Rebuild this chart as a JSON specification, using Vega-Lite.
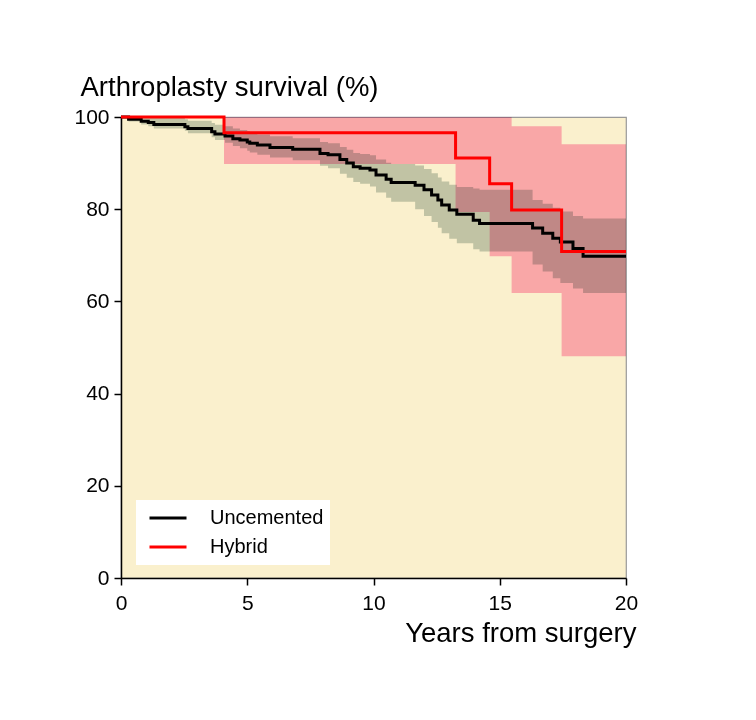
{
  "$schema": "https://vega.github.io/schema/vega-lite/v6.json",
  "width": 505,
  "height": 461,
  "autosize": "none",
  "padding": {"left": 121, "top": 117, "right": 130, "bottom": 142},
  "background": "white",
  "config": {
    "font": "Liberation Sans",
    "view": {"fill": "#FAF0CD", "stroke": "#999999", "strokeWidth": 1.2},
    "axis": {
      "domainColor": "#000000",
      "domainWidth": 1.5,
      "tickColor": "#000000",
      "tickWidth": 1.5,
      "tickSize": 7,
      "labelFont": "Liberation Sans",
      "labelFontSize": 21,
      "labelColor": "#000000",
      "labelFlush": false,
      "titleFont": "Liberation Sans",
      "titleFontSize": 27.5,
      "titleFontWeight": "normal",
      "titleColor": "#000000",
      "grid": false
    }
  },
  "data": {
    "values": [
      {"group": "Uncemented", "t": 0, "s": 100, "lo": 100, "hi": 100},
      {"group": "Uncemented", "t": 0.3, "s": 99.5, "lo": 99.0, "hi": 100},
      {"group": "Uncemented", "t": 0.8, "s": 99.1, "lo": 98.4, "hi": 100},
      {"group": "Uncemented", "t": 1.08, "s": 98.8, "lo": 98.0, "hi": 100},
      {"group": "Uncemented", "t": 1.3, "s": 98.4, "lo": 97.5, "hi": 99.8},
      {"group": "Uncemented", "t": 2.53, "s": 97.9, "lo": 97.0, "hi": 99.5},
      {"group": "Uncemented", "t": 2.65, "s": 97.5, "lo": 96.5, "hi": 99.2},
      {"group": "Uncemented", "t": 3.59, "s": 96.8, "lo": 95.6, "hi": 98.7},
      {"group": "Uncemented", "t": 3.72, "s": 96.3, "lo": 95.0, "hi": 98.3},
      {"group": "Uncemented", "t": 4.12, "s": 95.9, "lo": 94.4, "hi": 98.0},
      {"group": "Uncemented", "t": 4.43, "s": 95.3, "lo": 93.7, "hi": 97.5},
      {"group": "Uncemented", "t": 4.71, "s": 95.0, "lo": 93.2, "hi": 97.2},
      {"group": "Uncemented", "t": 5.0, "s": 94.6, "lo": 92.7, "hi": 96.9},
      {"group": "Uncemented", "t": 5.1, "s": 94.3, "lo": 92.3, "hi": 96.6},
      {"group": "Uncemented", "t": 5.4, "s": 93.9, "lo": 91.8, "hi": 96.2},
      {"group": "Uncemented", "t": 5.9, "s": 93.4, "lo": 91.2, "hi": 95.8},
      {"group": "Uncemented", "t": 6.8, "s": 93.0, "lo": 90.6, "hi": 95.4},
      {"group": "Uncemented", "t": 7.88, "s": 92.1, "lo": 89.4, "hi": 94.6},
      {"group": "Uncemented", "t": 8.2, "s": 91.8, "lo": 88.9, "hi": 94.3},
      {"group": "Uncemented", "t": 8.67, "s": 90.8, "lo": 87.7, "hi": 93.5},
      {"group": "Uncemented", "t": 8.94, "s": 90.0, "lo": 86.8, "hi": 92.9},
      {"group": "Uncemented", "t": 9.2, "s": 89.2, "lo": 85.9, "hi": 92.2},
      {"group": "Uncemented", "t": 9.47, "s": 88.9, "lo": 85.5, "hi": 92.0},
      {"group": "Uncemented", "t": 9.86, "s": 88.5, "lo": 84.9, "hi": 91.7},
      {"group": "Uncemented", "t": 10.1, "s": 87.4, "lo": 83.6, "hi": 90.8},
      {"group": "Uncemented", "t": 10.5, "s": 86.5, "lo": 82.5, "hi": 90.1},
      {"group": "Uncemented", "t": 10.7, "s": 85.8, "lo": 81.6, "hi": 89.8},
      {"group": "Uncemented", "t": 11.65, "s": 85.2, "lo": 80.0, "hi": 89.5},
      {"group": "Uncemented", "t": 12.0, "s": 84.2, "lo": 78.5, "hi": 88.7},
      {"group": "Uncemented", "t": 12.3, "s": 83.1, "lo": 77.2, "hi": 87.8},
      {"group": "Uncemented", "t": 12.55, "s": 82.0, "lo": 76.0, "hi": 86.9},
      {"group": "Uncemented", "t": 12.7, "s": 80.9, "lo": 74.8, "hi": 86.0},
      {"group": "Uncemented", "t": 13.0, "s": 79.8, "lo": 73.6, "hi": 85.3},
      {"group": "Uncemented", "t": 13.3, "s": 78.9, "lo": 72.6, "hi": 84.8},
      {"group": "Uncemented", "t": 13.95, "s": 77.6, "lo": 71.3, "hi": 84.5},
      {"group": "Uncemented", "t": 14.2, "s": 76.9, "lo": 70.8, "hi": 84.2},
      {"group": "Uncemented", "t": 16.3, "s": 75.9, "lo": 68.0, "hi": 82.0},
      {"group": "Uncemented", "t": 16.7, "s": 74.8, "lo": 66.5, "hi": 81.2},
      {"group": "Uncemented", "t": 17.1, "s": 73.7, "lo": 65.0, "hi": 80.3},
      {"group": "Uncemented", "t": 17.4, "s": 72.9, "lo": 64.0, "hi": 79.5},
      {"group": "Uncemented", "t": 17.9, "s": 71.5, "lo": 62.8, "hi": 78.5},
      {"group": "Uncemented", "t": 18.3, "s": 69.8, "lo": 61.8, "hi": 78.0},
      {"group": "Uncemented", "t": 20, "s": 69.8, "lo": 61.8, "hi": 78.0},
      {"group": "Hybrid", "t": 0, "s": 100, "lo": 100, "hi": 100},
      {"group": "Hybrid", "t": 4.08, "s": 96.6, "lo": 89.8, "hi": 100},
      {"group": "Hybrid", "t": 13.25, "s": 91.1, "lo": 79.4, "hi": 100},
      {"group": "Hybrid", "t": 14.6, "s": 85.5, "lo": 69.8, "hi": 100},
      {"group": "Hybrid", "t": 15.47, "s": 79.8, "lo": 61.8, "hi": 98.0},
      {"group": "Hybrid", "t": 17.45, "s": 70.8, "lo": 48.1, "hi": 94.1},
      {"group": "Hybrid", "t": 20, "s": 70.8, "lo": 48.1, "hi": 94.1}
    ]
  },
  "encoding": {
    "x": {
      "field": "t",
      "type": "quantitative",
      "scale": {"domain": [0, 20], "nice": false, "zero": false},
      "axis": {
        "values": [0, 5, 10, 15, 20],
        "labelPadding": 7,
        "title": "Years from surgery",
        "titleX": 515,
        "titleY": 63,
        "titleAlign": "right",
        "titleBaseline": "alphabetic",
        "titleAnchor": "end"
      }
    }
  },
  "layer": [
    {
      "transform": [{"filter": "datum.group === 'Uncemented'"}],
      "mark": {"type": "area", "interpolate": "step-after", "blend": "multiply", "color": "#C5D0CC"},
      "encoding": {
        "y": {
          "field": "lo",
          "type": "quantitative",
          "scale": {"domain": [0, 100], "nice": false},
          "axis": {
            "values": [0, 20, 40, 60, 80, 100],
            "labelPadding": 5,
            "title": "Arthroplasty survival (%)",
            "titleAngle": 0,
            "titleX": -41,
            "titleY": -22,
            "titleAlign": "left",
            "titleBaseline": "alphabetic"
          }
        },
        "y2": {"field": "hi"}
      }
    },
    {
      "transform": [{"filter": "datum.group === 'Hybrid'"}],
      "mark": {"type": "area", "interpolate": "step-after", "blend": "multiply", "color": "#FEB2D0"},
      "encoding": {
        "y": {"field": "lo", "type": "quantitative"},
        "y2": {"field": "hi"}
      }
    },
    {
      "mark": {"type": "line", "interpolate": "step-after", "strokeWidth": 3},
      "encoding": {
        "y": {"field": "s", "type": "quantitative"},
        "stroke": {
          "field": "group",
          "type": "nominal",
          "scale": {"domain": ["Uncemented", "Hybrid"], "range": ["#000000", "#FF0000"]},
          "legend": {
            "title": null,
            "orient": "none",
            "legendX": 15,
            "legendY": 383,
            "fillColor": "#FFFFFF",
            "padding": 6,
            "symbolType": "stroke",
            "symbolSize": 1369,
            "symbolStrokeWidth": 3,
            "symbolOffset": 6,
            "labelOffset": 22,
            "labelFont": "Liberation Sans",
            "labelFontSize": 20,
            "labelColor": "#000000",
            "clipHeight": 24,
            "rowPadding": 5
          }
        }
      }
    }
  ]
}
